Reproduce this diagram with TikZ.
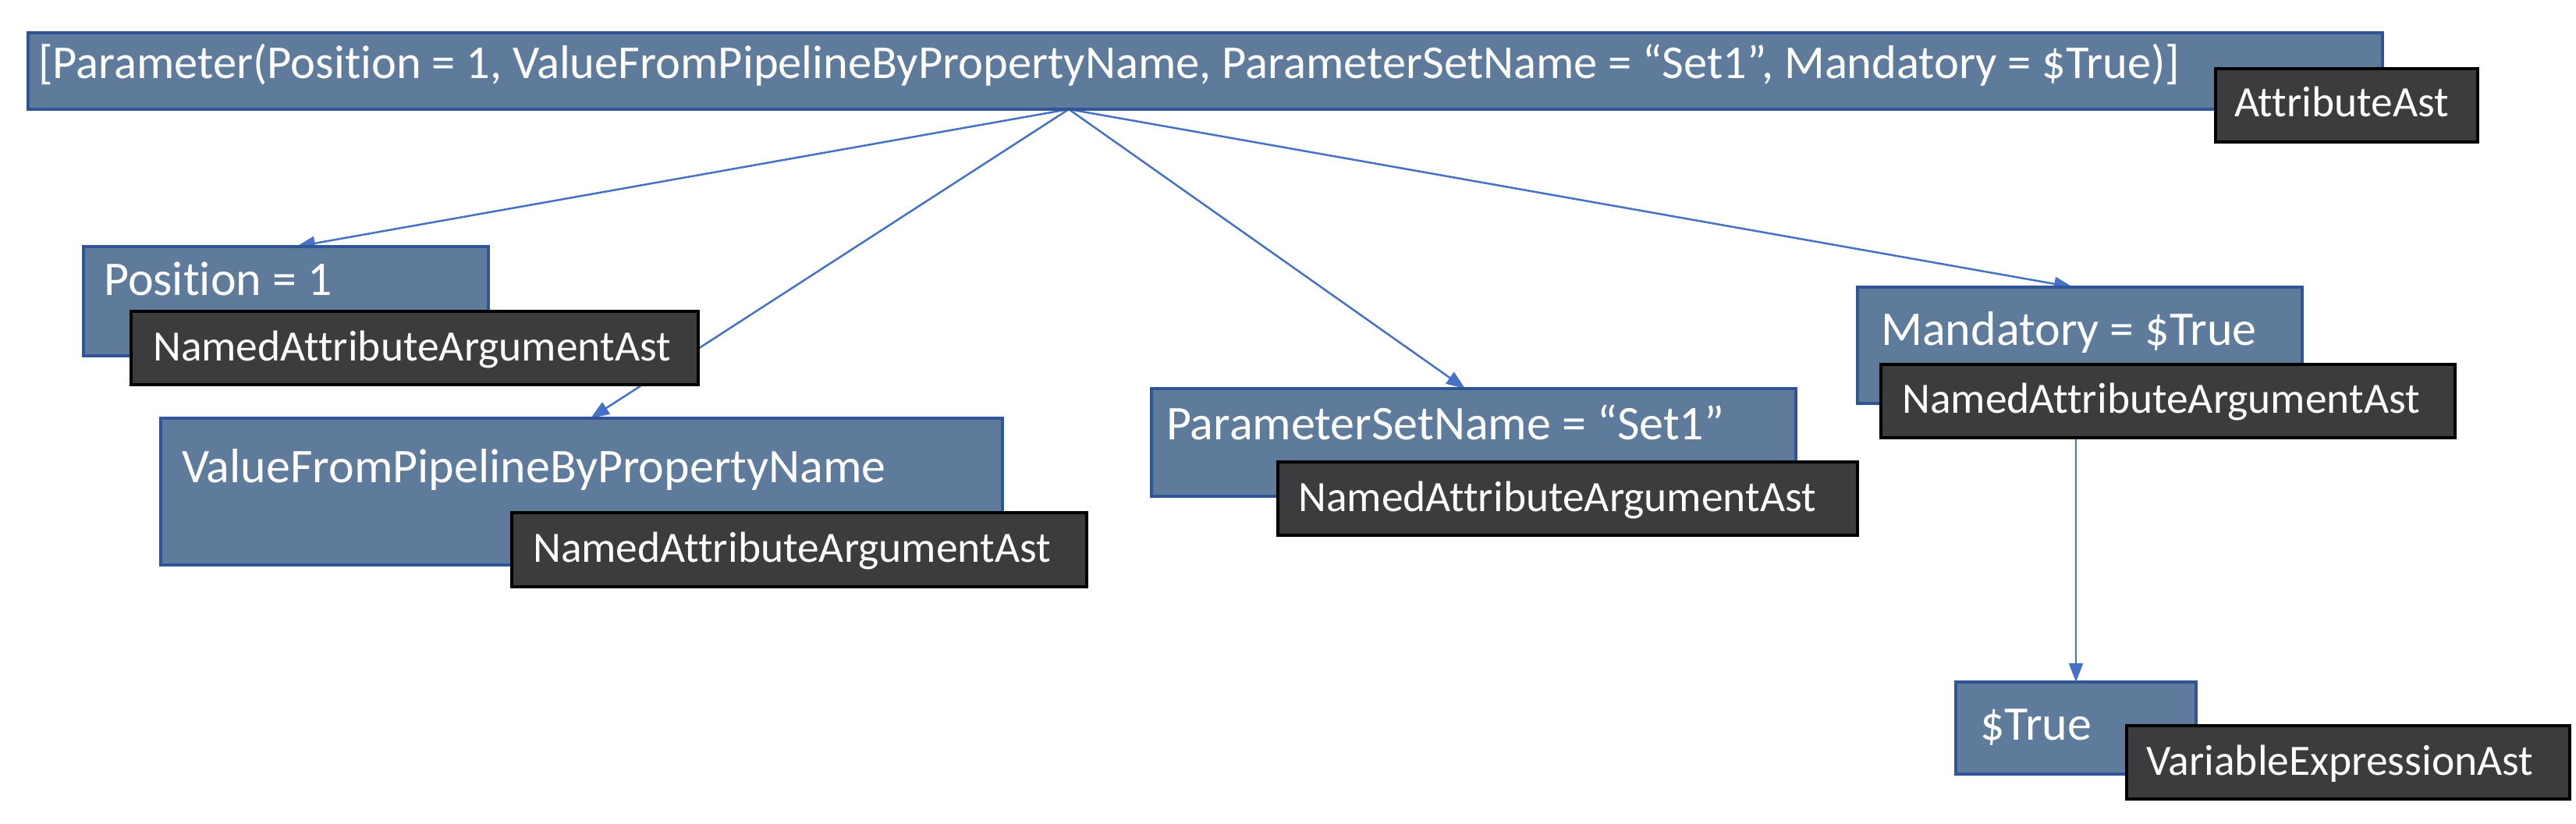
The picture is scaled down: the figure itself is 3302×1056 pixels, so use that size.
\documentclass[tikz,border=0pt]{standalone}
\usepackage{fontspec}
\setmainfont[Ligatures={NoCommon,TeX}]{Carlito}
\usetikzlibrary{arrows.meta}
\definecolor{boxfill}{HTML}{5E7B9B}
\definecolor{boxedge}{HTML}{2F5597}
\definecolor{tagfill}{HTML}{3B3C3E}
\definecolor{arrowcol}{HTML}{4472C4}
\begin{document}
\begin{tikzpicture}[x=1pt,y=-1pt,
 bluebox/.style={draw=boxedge, line width=3.5pt, fill=boxfill, anchor=north west, inner sep=0pt, outer sep=0pt},
 tagbox/.style={draw=black, line width=3.5pt, fill=tagfill, anchor=north west, inner sep=0pt, outer sep=0pt},
 bluetxt/.style={text=white, font=\fontsize{62}{70}\selectfont, anchor=base west, inner sep=0pt},
 tagtxt/.style={text=white, font=\fontsize{55.5}{62}\selectfont, anchor=base west, inner sep=0pt},
 link/.style={draw=arrowcol, line width=2.5pt, -{Triangle[length=24pt,width=18pt]}}]
\useasboundingbox[fill=white] (0,0) rectangle (3302,1056);

% connector end points on the box tops
\coordinate (apex) at (1370,140);
\coordinate (posTop) at (380,316);
\coordinate (vfpTop) at (757,536);
\coordinate (psnTop) at (1878,498);
\coordinate (manTop) at (2657,368);

% connectors
\draw[link] (apex) -- (posTop);
\draw[link] (apex) -- (vfpTop);
\draw[link] (apex) -- (psnTop);
\draw[link] (apex) -- (manTop);

% blue boxes
\node[bluebox, minimum width=3018pt, minimum height=98pt] (top) at (36,42) {};
\node[bluebox, minimum width=519pt, minimum height=140pt] (pos) at (107,316) {};
\node[bluebox, minimum width=1079pt, minimum height=188pt] (vfp) at (206,536) {};
\node[bluebox, minimum width=826pt, minimum height=138pt] (psn) at (1476,498) {};
\node[bluebox, minimum width=570pt, minimum height=149pt] (man) at (2381,368) {};
\node[bluebox, minimum width=308pt, minimum height=118pt] (tru) at (2507,874) {};

\draw[link] (man.south -| tru.north) -- (tru.north);

% blue box texts
\node[bluetxt, font=\fontsize{60.5}{70}\selectfont] (topT) at (49,101) {[Parameter(Position = 1, ValueFromPipelineByPropertyName, ParameterSetName = “Set1”, Mandatory = \$True)]};
\node[bluetxt] (posT) at (133,378) {Position = 1};
\node[bluetxt] (vfpT) at (233,618) {ValueFromPipelineByPropertyName};
\node[bluetxt] (psnT) at (1495,563) {ParameterSetName = “Set1”};
\node[bluetxt] (manT) at (2411,442) {Mandatory = \$True};
\node[bluetxt] (truT) at (2538,948) {\$True};

% type tags
\node[tagbox, minimum width=336pt, minimum height=94pt] (attrTag) at (2840,88) {};
\node[tagbox, minimum width=727pt, minimum height=94pt] (posTag) at (168,399) {};
\node[tagbox, minimum width=737pt, minimum height=95pt] (vfpTag) at (656,657) {};
\node[tagbox, minimum width=743pt, minimum height=94pt] (psnTag) at (1638,592) {};
\node[tagbox, minimum width=736pt, minimum height=94pt] (manTag) at (2411,467) {};
\node[tagbox, minimum width=568pt, minimum height=94pt] (truTag) at (2726,930) {};

\node[tagtxt] (attrTagT) at (2864,150) {AttributeAst};
\node[tagtxt] (posTagT) at (196,462) {NamedAttributeArgumentAst};
\node[tagtxt] (vfpTagT) at (683,720) {NamedAttributeArgumentAst};
\node[tagtxt] (psnTagT) at (1664,655) {NamedAttributeArgumentAst};
\node[tagtxt] (manTagT) at (2438,529) {NamedAttributeArgumentAst};
\node[tagtxt] (truTagT) at (2751,993) {VariableExpressionAst};
\end{tikzpicture}
\end{document}
